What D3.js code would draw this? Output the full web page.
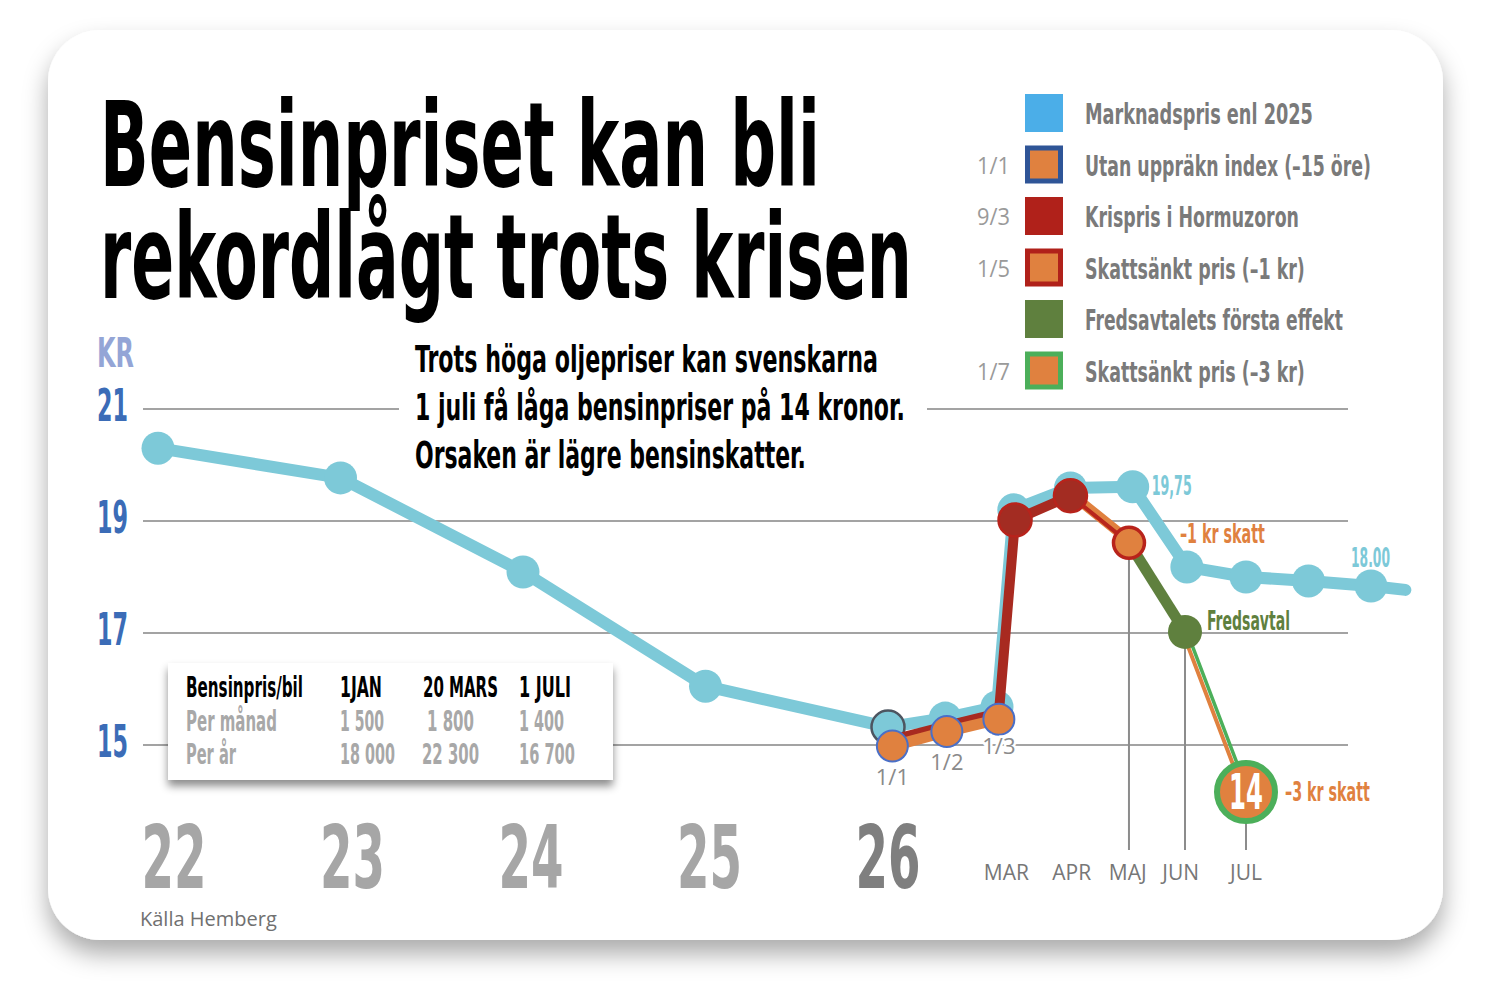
<!DOCTYPE html>
<html>
<head>
<meta charset="utf-8">
<script src="https://cdn.jsdelivr.net/npm/d3@7"></script>
<style>
body { margin: 0; background: #fff; }
svg { display: block; }
</style>
</head>
<body>
<div id="chart"></div>
<script>
// time axis: months counted from jan 2022 (48 = 1 jan 2026)
const marketMonths = [0, 12, 24, 36, 48, 49.05, 50, 50.27, 51.18, 52.18, 53.05, 54, 55, 56, 56.55];
const marketPrice = [20.30, 19.77, 18.09, 16.05, 15.32, 15.48, 15.68, 19.20, 19.59, 19.61, 18.18, 18.00, 17.93, 17.84, 17.77];
const noIndexMonths = [48.08, 49.08, 50.03];
const noIndexPrice = [14.98, 15.24, 15.46];
const crisisMonths = [48.08, 49.08, 50.03, 50.29, 51.18];
const crisisPrice = [15.09, 15.34, 15.57, 19.02, 19.45];
const taxCut1Months = [51.18, 52.12];
const taxCut1Price = [19.45, 18.61];
const peaceMonths = [52.12, 53.02];
const peacePrice = [18.61, 17.02];
const taxCut3Months = [53.02, 54];
const taxCut3Price = [17.02, 14.16];

const priceTicks = [15, 17, 19, 21];
const yearTicks = [0, 12, 24, 36, 48];
const yearLabels = ["22", "23", "24", "25", "26"];
const monthTicks = [50.15, 51.2, 52.1, 52.95, 54];
const monthLabels = ["MAR", "APR", "MAJ", "JUN", "JUL"];
const dateLabels = ["1/1", "1/2", "1/3"];

const legendLabels = ["Marknadspris enl 2025", "Utan uppräkn index (–15 öre)", "Krispris i Hormuzoron",
  "Skattsänkt pris (–1 kr)", "Fredsavtalets första effekt", "Skattsänkt pris (–3 kr)"];
const legendWidths = [228, 286, 214, 220, 258, 220];
const legendDates = ["", "1/1", "9/3", "1/5", "", "1/7"];

const tableHeader = ["Bensinpris/bil", "1JAN", "20 MARS", "1 JULI"];
const tableMonthly = ["Per månad", "1 500", "1 800", "1 400"];
const tableYearly = ["Per år", "18 000", "22 300", "16 700"];

const C = {
  blue: "#7dc9d8", legendBlue: "#4baee8", orange: "#e0813f", red: "#a82a20", redStroke: "#b8231b",
  green: "#5f803e", lightGreen: "#4caf5a", dotBlue: "#4a6fc7", legendNavy: "#2f5597",
  grid: "#a3a3a3", tick: "#3b6cb7", kr: "#94a5d6"
};
const legendFill = [C.legendBlue, C.orange, "#b0211a", C.orange, C.green, C.orange];
const legendStroke = [null, C.legendNavy, null, "#b0211a", null, C.lightGreen];

const COND = "'Liberation Sans Narrow','DejaVu Sans Condensed','Arial Narrow',sans-serif";
const SANS = "'Open Sans','Noto Sans',sans-serif";

const width = 1492, height = 982;

const x = d3.scaleLinear().domain([0, 48, 50, 54, 56]).range([158, 888, 997, 1246, 1371]);
const y = d3.scaleLinear().domain([14, 21]).range([801, 409]);
const yearX = d3.scaleLinear().domain([0, 48]).range([174, 888]);

const svg = d3.select("#chart").append("svg")
  .attr("width", width)
  .attr("height", height);

const defs = svg.append("defs");
defs.append("filter").attr("id", "cardShadow")
  .attr("x", "-10%").attr("y", "-10%").attr("width", "120%").attr("height", "125%")
  .append("feDropShadow")
  .attr("dx", 0).attr("dy", 14).attr("stdDeviation", 12)
  .attr("flood-color", "#000").attr("flood-opacity", 0.33);
defs.append("filter").attr("id", "boxShadow")
  .attr("x", "-10%").attr("y", "-20%").attr("width", "120%").attr("height", "150%")
  .append("feDropShadow")
  .attr("dx", 0).attr("dy", 6).attr("stdDeviation", 4)
  .attr("flood-color", "#000").attr("flood-opacity", 0.45);

// squeeze a text horizontally to a given width (condensed look)
function fit(sel, w) {
  sel.each(function() {
    const t = d3.select(this);
    const x0 = +t.attr("x"), y0 = +t.attr("y");
    const k = w / this.getComputedTextLength();
    t.attr("x", 0).attr("y", 0)
      .attr("transform", `translate(${x0},${y0}) scale(${k},1)`);
  });
  return sel;
}

// card
svg.append("rect")
  .attr("x", 48).attr("y", 30)
  .attr("width", 1395).attr("height", 910)
  .attr("rx", 52)
  .attr("fill", "#fff")
  .attr("filter", "url(#cardShadow)");

// title
const titleLines = ["Bensinpriset kan bli", "rekordlågt trots krisen"];
const titleWidths = [720, 812];
svg.append("g").selectAll("text")
  .data(titleLines)
  .enter().append("text")
  .attr("x", 100)
  .attr("y", (d, i) => 186 + i * 112)
  .attr("font-family", COND)
  .attr("font-weight", "bold")
  .attr("font-size", 118)
  .attr("fill", "#000")
  .text(d => d)
  .each(function(d, i) { fit(d3.select(this), titleWidths[i]); });

// grid lines
svg.append("g").selectAll("line")
  .data(priceTicks)
  .enter().append("line")
  .attr("x1", 143).attr("x2", 1348)
  .attr("y1", d => y(d)).attr("y2", d => y(d))
  .attr("stroke", C.grid)
  .attr("stroke-width", 2);

// y labels
svg.append("text")
  .attr("x", 97).attr("y", 367)
  .attr("font-family", COND).attr("font-weight", "bold")
  .attr("font-size", 41).attr("fill", C.kr)
  .text("KR")
  .call(fit, 37);

svg.append("g").selectAll("text")
  .data(priceTicks)
  .enter().append("text")
  .attr("x", 97)
  .attr("y", d => y(d) + 12)
  .attr("font-family", COND).attr("font-weight", "bold")
  .attr("font-size", 45).attr("fill", C.tick)
  .text(d => d)
  .call(fit, 31);

// subtitle
svg.append("rect")
  .attr("x", 399).attr("y", 380)
  .attr("width", 528).attr("height", 60)
  .attr("fill", "#fff");
const subLines = ["Trots höga oljepriser kan svenskarna", "1 juli få låga bensinpriser på 14 kronor.", "Orsaken är lägre bensinskatter."];
const subWidths = [463, 490, 391];
svg.append("g").selectAll("text")
  .data(subLines)
  .enter().append("text")
  .attr("x", 415)
  .attr("y", (d, i) => 372 + i * 48)
  .attr("font-family", COND).attr("font-weight", "bold")
  .attr("font-size", 37).attr("fill", "#000")
  .text(d => d)
  .each(function(d, i) { fit(d3.select(this), subWidths[i]); });

// legend
const rowY = i => 113 + i * 51.5;
const legend = svg.append("g");

legend.selectAll("rect")
  .data(legendLabels)
  .enter().append("rect")
  .attr("x", (d, i) => legendStroke[i] ? 1027.5 : 1025)
  .attr("y", (d, i) => rowY(i) + (legendStroke[i] ? -16.5 : -19))
  .attr("width", (d, i) => legendStroke[i] ? 33 : 38)
  .attr("height", (d, i) => legendStroke[i] ? 33 : 38)
  .attr("fill", (d, i) => legendFill[i])
  .attr("stroke", (d, i) => legendStroke[i] || "none")
  .attr("stroke-width", 5);

legend.selectAll("text.lab")
  .data(legendLabels)
  .enter().append("text")
  .attr("class", "lab")
  .attr("x", 1085).attr("y", (d, i) => rowY(i) + 11)
  .attr("font-family", COND).attr("font-weight", "bold")
  .attr("font-size", 29).attr("fill", "#7a7a7a")
  .text(d => d)
  .each(function(d, i) { fit(d3.select(this), legendWidths[i]); });

legend.selectAll("text.date")
  .data(legendDates.map((d, i) => ({ d, i })).filter(o => o.d !== ""))
  .enter().append("text")
  .attr("class", "date")
  .attr("x", 977).attr("y", o => rowY(o.i) + 9)
  .attr("font-family", SANS)
  .attr("font-size", 23).attr("fill", "#9a9a9a")
  .text(o => o.d)
  .call(fit, 33);

// helpers for series
function pts(ts, vs) { return ts.map((t, i) => [x(t), y(vs[i])]); }
const line = d3.line();

function path(data, color, w, dx) {
  return svg.append("path")
    .attr("d", line(data))
    .attr("transform", `translate(${dx || 0},0)`)
    .attr("fill", "none")
    .attr("stroke", color)
    .attr("stroke-width", w)
    .attr("stroke-linejoin", "round")
    .attr("stroke-linecap", "round");
}

const market = pts(marketMonths, marketPrice);
const noIndex = pts(noIndexMonths, noIndexPrice);
const crisis = pts(crisisMonths, crisisPrice);
const taxCut1 = pts(taxCut1Months, taxCut1Price);
const peace = pts(peaceMonths, peacePrice);
const taxCut3 = pts(taxCut3Months, taxCut3Price);

// drop lines to month axis
const drops = [taxCut1[1], peace[1], taxCut3[1]];
svg.append("g").selectAll("line")
  .data(drops)
  .enter().append("line")
  .attr("x1", d => d[0]).attr("x2", d => d[0])
  .attr("y1", d => d[1]).attr("y2", 850)
  .attr("stroke", "#8c8c8c")
  .attr("stroke-width", 2);

// market price line
path(market, C.blue, 12);
svg.append("g").selectAll("circle")
  .data(market.slice(0, -1))
  .enter().append("circle")
  .attr("cx", d => d[0]).attr("cy", d => d[1])
  .attr("r", 16.5)
  .attr("fill", C.blue)
  .attr("stroke", (d, i) => i === 4 ? "#4d5560" : "none")
  .attr("stroke-width", 2.5);

// crisis line
path(crisis, C.red, 10);

// no-index line
path(noIndex, C.orange, 11);

// tax cut 1 kr
path(taxCut1, C.orange, 10, 3);
path(taxCut1, "#b8261c", 4);

// peace deal
path(peace, C.green, 11);

// tax cut 3 kr (double thin line)
path(taxCut3, C.orange, 4, -2.5);
path(taxCut3, C.lightGreen, 3.5, 2);

// crisis dots
svg.append("g").selectAll("circle")
  .data(crisis.slice(3))
  .enter().append("circle")
  .attr("cx", d => d[0]).attr("cy", d => d[1])
  .attr("r", 16.5)
  .attr("fill", "#a32c22")
  .attr("stroke", C.redStroke)
  .attr("stroke-width", 2.5);

// no-index dots
svg.append("g").selectAll("circle")
  .data(noIndex)
  .enter().append("circle")
  .attr("cx", d => d[0]).attr("cy", d => d[1])
  .attr("r", 15.5)
  .attr("fill", C.orange)
  .attr("stroke", C.dotBlue)
  .attr("stroke-width", 2);

// tax cut 1 kr dot
svg.append("circle")
  .attr("cx", taxCut1[1][0]).attr("cy", taxCut1[1][1])
  .attr("r", 15.5)
  .attr("fill", C.orange)
  .attr("stroke", C.redStroke)
  .attr("stroke-width", 3.5);

// peace dot
svg.append("circle")
  .attr("cx", peace[1][0]).attr("cy", peace[1][1])
  .attr("r", 17)
  .attr("fill", C.green);

// 14 kr dot
svg.append("circle")
  .attr("cx", taxCut3[1][0]).attr("cy", taxCut3[1][1])
  .attr("r", 29)
  .attr("fill", C.orange)
  .attr("stroke", C.lightGreen)
  .attr("stroke-width", 6);
svg.append("text")
  .attr("x", taxCut3[1][0]).attr("y", taxCut3[1][1] + 17)
  .attr("text-anchor", "middle")
  .attr("font-family", COND).attr("font-weight", "bold")
  .attr("font-size", 50).attr("fill", "#fff")
  .text("14")
  .call(fit, 34);

// date labels under jan-mar points
const dateOffsets = [39, 38, 35];
svg.append("g").selectAll("text")
  .data(dateLabels)
  .enter().append("text")
  .attr("x", (d, i) => noIndex[i][0])
  .attr("y", (d, i) => noIndex[i][1] + dateOffsets[i])
  .attr("text-anchor", "middle")
  .attr("font-family", SANS)
  .attr("font-size", 22)
  .attr("fill", "#8a8a8a")
  .attr("stroke", "#fff")
  .attr("stroke-width", 5)
  .attr("paint-order", "stroke")
  .text(d => d);

// value annotations
function note(p, dx, dy, txt, color, w) {
  svg.append("text")
    .attr("x", p[0] + dx).attr("y", p[1] + dy)
    .attr("font-family", COND).attr("font-weight", "bold")
    .attr("font-size", 27).attr("fill", color)
    .text(txt)
    .call(fit, w);
}
note(market[9], 19, 8, "19,75", C.blue, 40);
note(market[13], -20, -19, "18.00", C.blue, 39);
note(taxCut1[1], 51, 0, "–1 kr skatt", C.orange, 85);
note(peace[1], 22, -2, "Fredsavtal", C.green, 83);
note(taxCut3[1], 39, 9, "–3 kr skatt", C.orange, 85);

// table
svg.append("rect")
  .attr("x", 168).attr("y", 663)
  .attr("width", 445).attr("height", 117)
  .attr("fill", "#fff")
  .attr("filter", "url(#boxShadow)");

const colX = [186, 340, 423, 519];
const rows = [
  { cells: tableHeader, color: "#000", widths: [117, 42, 75, 52] },
  { cells: tableMonthly, color: "#a8a8a8", widths: [91, 44, 47, 45] },
  { cells: tableYearly, color: "#a8a8a8", widths: [50, 55, 57, 56] }
];
const colShift = [[0, 0, 0, 0], [0, 0, 4, 0], [0, 0, -1, 0]];
rows.forEach((row, r) => {
  svg.append("g").selectAll("text")
    .data(row.cells)
    .enter().append("text")
    .attr("x", (d, i) => colX[i] + colShift[r][i])
    .attr("y", 697 + r * 33.5)
    .attr("font-family", COND).attr("font-weight", "bold")
    .attr("font-size", 28).attr("fill", row.color)
    .text(d => d)
    .each(function(d, i) { fit(d3.select(this), row.widths[i]); });
});

// year axis
svg.append("g").selectAll("text")
  .data(yearTicks)
  .enter().append("text")
  .attr("x", d => yearX(d))
  .attr("y", 888)
  .attr("text-anchor", "middle")
  .attr("font-family", COND).attr("font-weight", "bold")
  .attr("font-size", 88)
  .attr("fill", (d, i) => i === yearTicks.length - 1 ? "#7f7f7f" : "#a6a6a6")
  .text((d, i) => yearLabels[i])
  .call(fit, 65);

// month axis
svg.append("g").selectAll("text")
  .data(monthTicks)
  .enter().append("text")
  .attr("x", d => x(d))
  .attr("y", 880)
  .attr("text-anchor", "middle")
  .attr("font-family", SANS)
  .attr("font-size", 21)
  .attr("fill", "#777")
  .text((d, i) => monthLabels[i]);

// source
svg.append("text")
  .attr("x", 140).attr("y", 926)
  .attr("font-family", SANS)
  .attr("font-size", 20)
  .attr("fill", "#707070")
  .text("Källa Hemberg");
</script>
</body>
</html>
